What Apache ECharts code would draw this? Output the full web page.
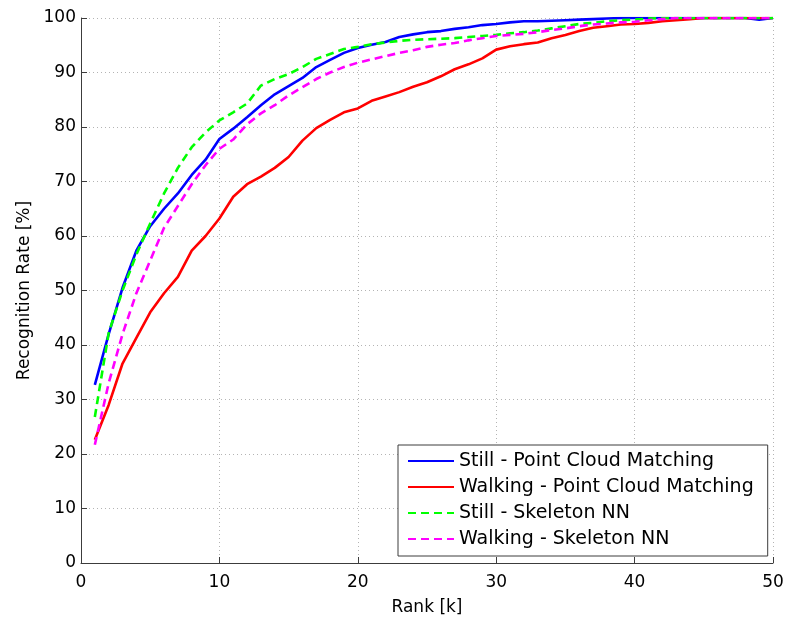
<!DOCTYPE html>
<html>
<head>
<meta charset="utf-8">
<script src="https://cdn.jsdelivr.net/npm/echarts@6/dist/echarts.min.js"></script>
<style>
  html, body { margin: 0; padding: 0; background: #fff; }
  #chart { width: 787px; height: 617px; }
</style>
</head>
<body>
<div id="chart"></div>
<script>
// Cumulative recognition rate (%) per rank k = 1..50
const ranks = Array.from({ length: 50 }, (_, i) => i + 1);

const stillPCM = [32.7, 42.0, 50.5, 57.3, 61.8, 65.0, 67.8, 71.2, 74.0, 77.8,
  79.7, 81.8, 84.0, 86.0, 87.5, 89.0, 91.0, 92.3, 93.6, 94.5,
  95.1, 95.6, 96.5, 97.0, 97.4, 97.6, 98.0, 98.3, 98.7, 98.9,
  99.2, 99.4, 99.4, 99.5, 99.6, 99.7, 99.8, 99.9, 100, 100,
  100, 100, 100, 100, 100, 100, 100, 100, 99.7, 100];

const walkingPCM = [22.6, 29.0, 36.6, 41.3, 46.0, 49.5, 52.5, 57.3, 60.0, 63.2,
  67.2, 69.5, 70.9, 72.5, 74.5, 77.5, 79.8, 81.3, 82.7, 83.4,
  84.8, 85.6, 86.4, 87.4, 88.2, 89.3, 90.6, 91.5, 92.6, 94.2,
  94.8, 95.2, 95.5, 96.3, 96.9, 97.6, 98.2, 98.5, 98.8, 98.9,
  99.1, 99.4, 99.6, 99.8, 100, 100, 100, 100, 100, 100];

const stillNN = [26.8, 42.2, 50.0, 56.6, 62.3, 67.8, 72.5, 76.3, 79.0, 81.2,
  82.7, 84.3, 87.6, 88.8, 89.7, 91.0, 92.5, 93.4, 94.3, 94.7,
  95.2, 95.5, 95.8, 96.0, 96.1, 96.2, 96.3, 96.5, 96.7, 96.9,
  97.2, 97.4, 97.7, 98.1, 98.5, 98.9, 99.1, 99.4, 99.6, 99.7,
  99.9, 100, 100, 100, 100, 100, 100, 100, 100, 100];

const walkingNN = [21.7, 33.0, 42.0, 49.5, 55.5, 61.5, 65.5, 69.5, 73.0, 76.0,
  77.7, 80.5, 82.5, 84.0, 85.8, 87.3, 88.8, 90.0, 91.0, 91.8,
  92.4, 93.0, 93.6, 94.1, 94.7, 95.1, 95.4, 95.9, 96.3, 96.7,
  96.9, 97.1, 97.4, 97.8, 98.1, 98.5, 98.8, 99.0, 99.2, 99.3,
  99.6, 99.8, 100, 100, 100, 100, 100, 100, 100, 100];

const seriesNames = [
  'Still - Point Cloud Matching',
  'Walking - Point Cloud Matching',
  'Still - Skeleton NN',
  'Walking - Skeleton NN'
];

const FONT = '"DejaVu Sans", "Liberation Sans", Arial, sans-serif';
const AXIS_COLOR = '#3c3c3c';

function pairs(vals) {
  return ranks.map((k, i) => [k, vals[i]]);
}

function lineSeries(name, vals, color, dashed) {
  return {
    name: name,
    type: 'line',
    data: pairs(vals),
    symbol: 'none',
    smooth: false,
    lineStyle: { color: color, width: 2.6, type: dashed ? [8, 5] : 'solid' },
    itemStyle: { color: color },
    emphasis: { disabled: true },
    animation: false
  };
}

const tickStyle = { show: true, inside: true, length: 6, lineStyle: { color: AXIS_COLOR, width: 1 } };
const gridLine = { show: true, lineStyle: { color: '#b4b4b4', width: 1, type: [1, 3] } };

const chart = echarts.init(document.getElementById('chart'));
chart.setOption({
  backgroundColor: '#fff',
  animation: false,
  grid: { left: 81, right: 14, top: 18, bottom: 54, containLabel: false, outerBoundsMode: 'none' },
  legend: {
    orient: 'vertical',
    left: 398,
    top: 445,
    data: seriesNames,
    backgroundColor: '#fff',
    borderColor: AXIS_COLOR,
    borderWidth: 1,
    borderRadius: 0,
    padding: [6, 14, 7, 9],
    itemWidth: 46,
    itemHeight: 20,
    itemGap: 6,
    selectedMode: false,
    itemStyle: { color: 'rgba(0,0,0,0)', borderWidth: 0, opacity: 0 },
    textStyle: { fontFamily: FONT, fontSize: 19, color: '#000', lineHeight: 20 }
  },
  xAxis: {
    type: 'value', min: 0, max: 50, interval: 10,
    name: 'Rank [k]', nameLocation: 'middle', nameGap: 36,
    nameTextStyle: { fontFamily: FONT, fontSize: 17, color: '#000' },
    axisLine: { show: true, onZero: false, lineStyle: { color: AXIS_COLOR, width: 1 } },
    axisTick: tickStyle,
    axisLabel: { fontFamily: FONT, fontSize: 17, color: '#000', margin: 11 },
    splitLine: gridLine
  },
  yAxis: {
    type: 'value', min: 0, max: 100, interval: 10,
    name: 'Recognition Rate [%]', nameLocation: 'middle', nameGap: 47,
    nameTextStyle: { fontFamily: FONT, fontSize: 17, color: '#000' },
    axisLine: { show: true, onZero: false, lineStyle: { color: AXIS_COLOR, width: 1 } },
    axisTick: tickStyle,
    axisLabel: { fontFamily: FONT, fontSize: 17, color: '#000', margin: 5 },
    splitLine: gridLine
  },
  series: [
    lineSeries(seriesNames[0], stillPCM, '#0000ff', false),
    lineSeries(seriesNames[1], walkingPCM, '#ff0000', false),
    lineSeries(seriesNames[2], stillNN, '#00ff00', true),
    lineSeries(seriesNames[3], walkingNN, '#ff00ff', true)
  ]
});
</script>
</body>
</html>
